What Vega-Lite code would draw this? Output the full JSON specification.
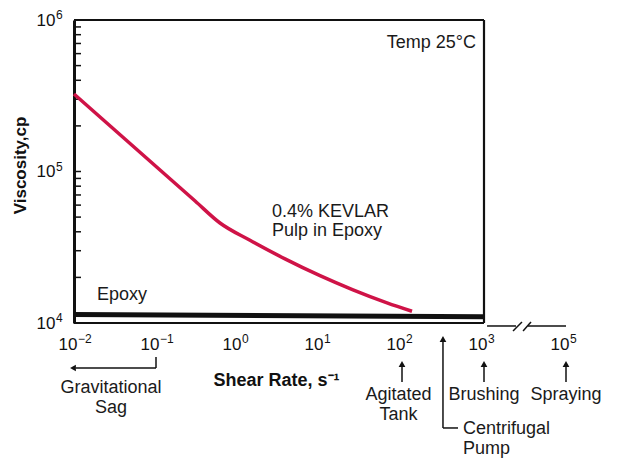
{
  "$schema": "https://vega.github.io/schema/vega-lite/v6.json",
  "width": 492,
  "height": 303,
  "autosize": {"type": "none"},
  "padding": {"left": 74, "top": 20, "right": 55, "bottom": 137},
  "background": "white",
  "config": {"view": {"stroke": null}},
  "datasets": {
    "kevlar": [
      {"x": 0.01, "y": 324900}, {"x": 0.3, "y": 63850}, {"x": 0.603, "y": 45720},
      {"x": 1.4006, "y": 35140}, {"x": 3.742, "y": 26500}, {"x": 10, "y": 20520},
      {"x": 25.26, "y": 16540}, {"x": 65.63, "y": 13570}, {"x": 132.4, "y": 11950}
    ],
    "epoxy": [{"x": 0.01, "y": 11400}, {"x": 1000, "y": 11000}],
    "frame": [
      {"x": 0.01, "x2": 1000, "y": 1000000, "y2": 1000000},
      {"x": 1000, "x2": 1000, "y": 10000, "y2": 1000000},
      {"x": 0.01, "x2": 1000, "y": 10000, "y2": 10000}
    ],
    "yticks": [
      {"x": 0.01, "x2": 0.01217, "y": 20000, "y2": 20000},
      {"x": 0.01, "x2": 0.01217, "y": 30000, "y2": 30000},
      {"x": 0.01, "x2": 0.01217, "y": 40000, "y2": 40000},
      {"x": 0.01, "x2": 0.01217, "y": 50000, "y2": 50000},
      {"x": 0.01, "x2": 0.01217, "y": 60000, "y2": 60000},
      {"x": 0.01, "x2": 0.01217, "y": 70000, "y2": 70000},
      {"x": 0.01, "x2": 0.01217, "y": 80000, "y2": 80000},
      {"x": 0.01, "x2": 0.01217, "y": 90000, "y2": 90000},
      {"x": 0.01, "x2": 0.01217, "y": 100000, "y2": 100000},
      {"x": 0.01, "x2": 0.01217, "y": 200000, "y2": 200000},
      {"x": 0.01, "x2": 0.01217, "y": 300000, "y2": 300000},
      {"x": 0.01, "x2": 0.01217, "y": 400000, "y2": 400000},
      {"x": 0.01, "x2": 0.01217, "y": 500000, "y2": 500000},
      {"x": 0.01, "x2": 0.01217, "y": 600000, "y2": 600000},
      {"x": 0.01, "x2": 0.01217, "y": 700000, "y2": 700000},
      {"x": 0.01, "x2": 0.01217, "y": 800000, "y2": 800000},
      {"x": 0.01, "x2": 0.01217, "y": 900000, "y2": 900000}
    ],
    "guides": [
      {"x": 1089, "x2": 2455, "y": 9556, "y2": 9556},
      {"x": 3443, "x2": 10000, "y": 9556, "y2": 9556},
      {"x": 2259, "x2": 2904, "y": 8858, "y2": 10153},
      {"x": 2994, "x2": 3741, "y": 8858, "y2": 10153},
      {"x": 0.1, "x2": 0.1, "y": 5965, "y2": 5047},
      {"x": 0.1, "x2": 0.0105, "y": 5047, "y2": 5047},
      {"x": 100, "x2": 100, "y": 5200, "y2": 4080},
      {"x": 1000, "x2": 1000, "y": 5200, "y2": 4080},
      {"x": 10000, "x2": 10000, "y": 5200, "y2": 4080},
      {"x": 316, "x2": 316, "y": 8000, "y2": 2028},
      {"x": 316, "x2": 482, "y": 2028, "y2": 2028}
    ],
    "arrowsUp": [
      {"x": 100, "y": 5361}, {"x": 1000, "y": 5361}, {"x": 10000, "y": 5361}, {"x": 316, "y": 7840}
    ],
    "arrowsLeft": [{"x": 0.00972, "y": 5047}],
    "xexp": [
      {"x": 0.01, "y": 10000, "e": "−2"}, {"x": 0.1, "y": 10000, "e": "−1"},
      {"x": 1, "y": 10000, "e": "0"}, {"x": 10, "y": 10000, "e": "1"},
      {"x": 100, "y": 10000, "e": "2"}, {"x": 1000, "y": 10000, "e": "3"},
      {"x": 10000, "y": 10000, "e": "5"}
    ],
    "yexp": [
      {"x": 0.01, "y": 10000, "e": "4"}, {"x": 0.01, "y": 100000, "e": "5"}, {"x": 0.01, "y": 1000000, "e": "6"}
    ],
    "textCenter": [
      {"x": 0.02826, "y": 3451, "t": "Gravitational"},
      {"x": 0.02826, "y": 2547, "t": "Sag"},
      {"x": 90.6, "y": 3103, "t": "Agitated"},
      {"x": 90.6, "y": 2291, "t": "Tank"},
      {"x": 1000, "y": 3103, "t": "Brushing"},
      {"x": 10000, "y": 3103, "t": "Spraying"}
    ],
    "textLeft": [
      {"x": 0.01908, "y": 14190, "t": "Epoxy"},
      {"x": 2.597, "y": 50100, "t": "0.4% KEVLAR"},
      {"x": 2.597, "y": 37540, "t": "Pulp in Epoxy"},
      {"x": 554.6, "y": 1851, "t": "Centrifugal"},
      {"x": 554.6, "y": 1366, "t": "Pump"}
    ],
    "textRight": [{"x": 798, "y": 653400, "t": "Temp 25°C"}]
  },
  "encoding": {
    "x": {
      "field": "x", "type": "quantitative",
      "scale": {"type": "log", "domain": [0.01, 10000]},
      "axis": {
        "values": [0.01, 0.1, 1, 10, 100, 1000, 10000],
        "labelExpr": "'10'",
        "ticks": false, "domain": false, "grid": false,
        "labelFont": "Liberation Sans", "labelFontSize": 17, "labelColor": "#111",
        "labelBaseline": "alphabetic", "labelAlign": "right", "labelOffset": 3,
        "labelPadding": 26, "labelFlush": false, "labelOverlap": false,
        "title": "Shear Rate, s⁻¹", "titleFont": "Liberation Sans", "titleFontSize": 18,
        "titleFontWeight": "bold", "titleColor": "#111",
        "titleX": 202, "titleY": 62, "titleBaseline": "alphabetic", "titleAlign": "center"
      }
    },
    "y": {
      "field": "y", "type": "quantitative",
      "scale": {"type": "log", "domain": [10000, 1000000]},
      "axis": {
        "values": [10000, 100000, 1000000],
        "labelExpr": "'10'",
        "ticks": false,
        "domainWidth": 3, "domainColor": "#111", "grid": false,
        "labelFont": "Liberation Sans", "labelFontSize": 17, "labelColor": "#111",
        "labelPadding": 19, "labelOverlap": false, "labelFlush": false, "labelBaseline": "middle",
        "title": "Viscosity,cp", "titleFont": "Liberation Sans", "titleFontSize": 17,
        "titleFontWeight": "bold", "titleColor": "#111",
        "titleX": -54, "titleY": 145, "titleBaseline": "middle", "titleAlign": "center", "titleAngle": -90
      }
    }
  },
  "layer": [
    {"data": {"name": "frame"}, "mark": {"type": "rule", "color": "#111", "strokeWidth": 2.2, "clip": false},
     "encoding": {"x2": {"field": "x2"}, "y2": {"field": "y2"}}},
    {"data": {"name": "yticks"}, "mark": {"type": "rule", "color": "#111", "strokeWidth": 1.5, "clip": false},
     "encoding": {"x2": {"field": "x2"}, "y2": {"field": "y2"}}},
    {"data": {"name": "epoxy"}, "mark": {"type": "line", "color": "#111", "strokeWidth": 5, "clip": false}, "encoding": {}},
    {"data": {"name": "kevlar"}, "mark": {"type": "line", "color": "#cf1347", "strokeWidth": 3.5, "interpolate": "monotone", "clip": false}, "encoding": {}},
    {"data": {"name": "guides"}, "mark": {"type": "rule", "color": "#111", "strokeWidth": 1.5, "clip": false},
     "encoding": {"x2": {"field": "x2"}, "y2": {"field": "y2"}}},
    {"data": {"name": "arrowsUp"}, "mark": {"type": "point", "shape": "triangle-up", "filled": true, "color": "#111", "size": 45, "opacity": 1, "clip": false}, "encoding": {}},
    {"data": {"name": "arrowsLeft"}, "mark": {"type": "point", "shape": "triangle-left", "filled": true, "color": "#111", "size": 45, "opacity": 1, "clip": false}, "encoding": {}},
    {"data": {"name": "xexp"}, "mark": {"type": "text", "align": "left", "baseline": "alphabetic", "dx": 4, "dy": 20, "font": "Liberation Sans", "fontSize": 12, "color": "#111", "clip": false},
     "encoding": {"text": {"field": "e"}}},
    {"data": {"name": "yexp"}, "mark": {"type": "text", "align": "left", "baseline": "alphabetic", "dx": -18, "dy": -1, "font": "Liberation Sans", "fontSize": 12, "color": "#111", "clip": false},
     "encoding": {"text": {"field": "e"}}},
    {"data": {"name": "textCenter"}, "mark": {"type": "text", "align": "center", "baseline": "alphabetic", "font": "Liberation Sans", "fontSize": 18, "color": "#1a1a1a", "clip": false},
     "encoding": {"text": {"field": "t"}}},
    {"data": {"name": "textLeft"}, "mark": {"type": "text", "align": "left", "baseline": "alphabetic", "font": "Liberation Sans", "fontSize": 18, "color": "#1a1a1a", "clip": false},
     "encoding": {"text": {"field": "t"}}},
    {"data": {"name": "textRight"}, "mark": {"type": "text", "align": "right", "baseline": "alphabetic", "font": "Liberation Sans", "fontSize": 18, "color": "#1a1a1a", "clip": false},
     "encoding": {"text": {"field": "t"}}}
  ]
}
